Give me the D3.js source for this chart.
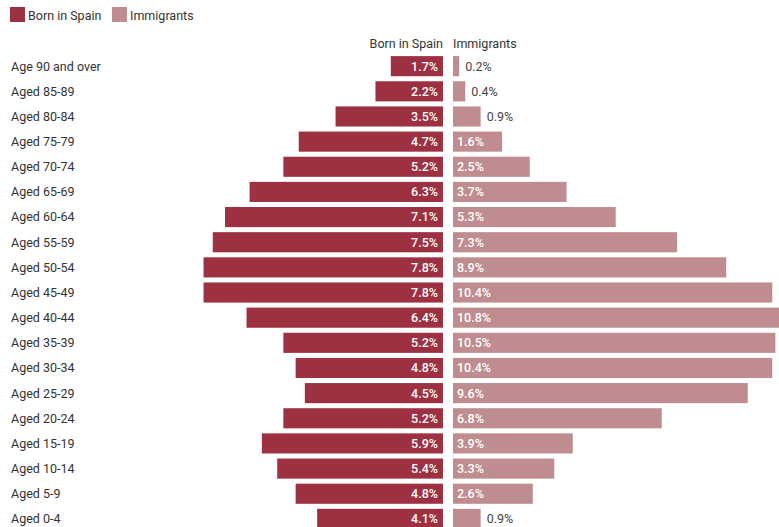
<!DOCTYPE html>
<html>
<head>
<meta charset="utf-8">
<script src="https://cdn.jsdelivr.net/npm/d3@7"></script>
<style>
  html, body { margin: 0; padding: 0; background: #fff; }
  svg { display: block; font-family: Roboto, "Noto Sans", sans-serif; }
</style>
</head>
<body>
<svg id="chart" width="779" height="527"></svg>
<script>
// Population pyramid: share of each age group, born in Spain vs immigrants
const ageGroups = ["Age 90 and over", "Aged 85-89", "Aged 80-84", "Aged 75-79", "Aged 70-74",
  "Aged 65-69", "Aged 60-64", "Aged 55-59", "Aged 50-54", "Aged 45-49", "Aged 40-44",
  "Aged 35-39", "Aged 30-34", "Aged 25-29", "Aged 20-24", "Aged 15-19", "Aged 10-14",
  "Aged 5-9", "Aged 0-4"];
const bornInSpain = [1.7, 2.2, 3.5, 4.7, 5.2, 6.3, 7.1, 7.5, 7.8, 7.8, 6.4, 5.2, 4.8, 4.5, 5.2, 5.9, 5.4, 4.8, 4.1];
const immigrants = [0.2, 0.4, 0.9, 1.6, 2.5, 3.7, 5.3, 7.3, 8.9, 10.4, 10.8, 10.5, 10.4, 9.6, 6.8, 3.9, 3.3, 2.6, 0.9];
const seriesNames = ["Born in Spain", "Immigrants"];
const seriesColors = ["#9e3141", "#bf8d90"];

const svg = d3.select("#chart");
const leftZero = 443, rightZero = 453;
const pxPerUnit = 30.7;
const fs = 12.5;

const w = d3.scaleLinear().domain([0, 1]).range([0, pxPerUnit]);
const y = d3.scaleBand().domain(ageGroups).range([53.6, 53.6 + 19 * 25.15]).paddingInner(0.2).paddingOuter(0.1);

// Legend
const legend = svg.append("g");
const legendX = [10, 112];
seriesNames.forEach((name, i) => {
  const g = legend.append("g").attr("transform", `translate(${legendX[i]},7)`);
  g.append("rect").attr("width", 15).attr("height", 15).attr("fill", seriesColors[i]);
  g.append("text").attr("x", 18).attr("y", 12.5).attr("font-size", fs).attr("fill", "#333").text(name);
});

// Column headers
svg.append("text").attr("x", leftZero).attr("y", 48).attr("text-anchor", "end")
  .attr("font-size", fs).attr("fill", "#333").text(seriesNames[0]);
svg.append("text").attr("x", rightZero).attr("y", 48).attr("text-anchor", "start")
  .attr("font-size", fs).attr("fill", "#333").text(seriesNames[1]);

// Category labels
svg.append("g").selectAll("text").data(ageGroups).join("text")
  .attr("x", 11).attr("y", d => y(d) + y.bandwidth() / 2)
  .attr("dy", "0.35em").attr("font-size", fs).attr("fill", "#333").text(d => d);

const fmt = v => v.toFixed(1) + "%";

// Born in Spain bars (growing left)
const left = svg.append("g");
left.selectAll("rect").data(ageGroups).join("rect")
  .attr("x", (d, i) => leftZero - w(bornInSpain[i]))
  .attr("y", d => y(d)).attr("width", (d, i) => w(bornInSpain[i]))
  .attr("height", y.bandwidth()).attr("fill", seriesColors[0]);
left.selectAll("text").data(ageGroups).join("text")
  .attr("x", leftZero - 5).attr("y", d => y(d) + y.bandwidth() / 2).attr("dy", "0.35em")
  .attr("text-anchor", "end").attr("font-size", fs).attr("font-weight", 500)
  .attr("fill", "#fff").text((d, i) => fmt(bornInSpain[i]));

// Immigrant bars (growing right)
const right = svg.append("g");
right.selectAll("rect").data(ageGroups).join("rect")
  .attr("x", rightZero).attr("y", d => y(d))
  .attr("width", (d, i) => w(immigrants[i]))
  .attr("height", y.bandwidth()).attr("fill", seriesColors[1]);
right.selectAll("text").data(ageGroups).join("text")
  .each(function (d, i) {
    const bw = w(immigrants[i]);
    const inside = bw > 40;
    d3.select(this)
      .attr("x", inside ? rightZero + 4 : rightZero + bw + 6)
      .attr("y", y(d) + y.bandwidth() / 2).attr("dy", "0.35em")
      .attr("font-size", fs).attr("font-weight", inside ? 500 : 400)
      .attr("fill", inside ? "#fff" : "#444").text(fmt(immigrants[i]));
  });
</script>
</body>
</html>
